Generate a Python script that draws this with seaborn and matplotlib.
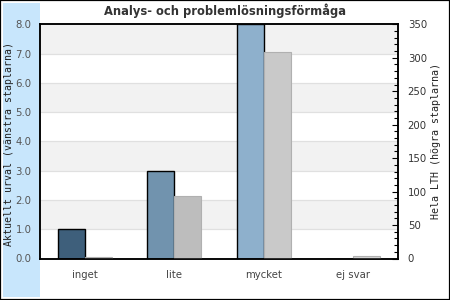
import matplotlib
matplotlib.use("Agg")
import matplotlib.pyplot as plt
from matplotlib.patches import Rectangle
from matplotlib.ticker import MultipleLocator
import seaborn as sns
import pandas as pd

# ---- data ----
kategorier = ["inget", "lite", "mycket", "ej svar"]
aktuellt_urval = [1, 3, 8, 0]
hela_lth = [2, 93, 309, 4]
serier = ["Aktuellt urval", "Hela LTH"]
titel = "Analys- och problemlösningsförmåga"
vanster_etikett = "Aktuellt urval (vänstra staplarna)"
hoger_etikett = "Hela LTH (högra staplarna)"
vanster_ticks = [0, 1, 2, 3, 4, 5, 6, 7, 8]
hoger_ticks = [0, 50, 100, 150, 200, 250, 300, 350]

bla_farger = ["#3e5f7b", "#7193ae", "#8eb0cc", "#a8c4dc"]
gra_farger = ["#999999", "#bdbdbd", "#c9c9c9", "#d4d4d4"]

sns.set_theme(style="white")
plt.rcParams["font.family"] = ["DejaVu Sans"]

fig = plt.figure(figsize=(4.5, 3.0), dpi=100)
fig.patch.set_facecolor("white")

# blue band on the left and figure border
fig.patches.append(Rectangle((3 / 450, 3 / 300), 37 / 450, 294 / 300,
                             transform=fig.transFigure, facecolor="#c8e6fc",
                             edgecolor="none", zorder=-10))
fig.patches.append(Rectangle((0, 0), 1, 1, transform=fig.transFigure,
                             facecolor="none", edgecolor="black", lw=1.6, zorder=10))

ax = fig.add_axes([40 / 450, 1 - 258.5 / 300, 358 / 450, 234.2 / 300])
ax.set_facecolor("white")

df_v = pd.DataFrame({"kategori": kategorier, "serie": serier[0], "varde": aktuellt_urval})
df_h = pd.DataFrame({"kategori": kategorier, "serie": serier[1], "varde": hela_lth})

# background stripes and grid
for lo in range(1, 8, 2):
    ax.axhspan(lo, lo + 1, color="#f2f2f2", zorder=0, lw=0)
for y in vanster_ticks[1:-1]:
    ax.axhline(y, color="#e0e0e0", lw=0.9, zorder=0.5)

sns.barplot(data=df_v, x="kategori", y="varde", hue="serie", hue_order=serier,
            order=kategorier, dodge=True, width=0.6, ax=ax, legend=False,
            palette=["#3e5f7b", "#999999"], edgecolor="black", linewidth=1.0,
            saturation=1, zorder=2)
for patch, c in zip(ax.containers[0], bla_farger):
    patch.set_facecolor(c)

ax.set_ylim(0, 8)
ax.set_yticks(vanster_ticks)
ax.set_yticklabels([f"{v:.1f}" for v in vanster_ticks])
ax.set_xlabel("")
ax.set_ylabel(vanster_etikett, family="DejaVu Sans Mono", fontsize=7.1, color="#222")
ax.yaxis.set_label_coords(-26 / 358, 0.49)
ax.tick_params(axis="y", length=0, pad=6, labelsize=7.3, labelcolor="#555")
ax.tick_params(axis="x", length=0, pad=8, labelsize=7.3, labelcolor="#444")

ax2 = ax.twinx()
sns.barplot(data=df_h, x="kategori", y="varde", hue="serie", hue_order=serier,
            order=kategorier, dodge=True, width=0.6, ax=ax2, legend=False,
            palette=["#3e5f7b", "#c9c9c9"], edgecolor="#b0b0b0", linewidth=0.8,
            saturation=1, zorder=2)
for patch, c in zip(ax2.containers[-1], gra_farger):
    patch.set_facecolor(c)
ax2.set_ylim(0, 350)
ax2.set_yticks(hoger_ticks)
ax2.yaxis.set_minor_locator(MultipleLocator(10))
ax2.tick_params(axis="y", which="major", direction="in", length=4, width=0.8,
                color="black", pad=7, labelsize=7.3, labelcolor="#333")
ax2.tick_params(axis="y", which="minor", direction="in", length=3, width=0.8,
                color="black")
ax2.set_ylabel(hoger_etikett, family="DejaVu Sans Mono", fontsize=7.2, color="#222")
ax2.yaxis.set_label_coords(1 + 33 / 358, 0.5)
ax2.set_xlabel("")

for a in (ax, ax2):
    for s in a.spines.values():
        s.set_visible(True)
        s.set_color("black")
        s.set_linewidth(1.1)

fig.text(0.5, 1 - 11 / 300, titel, ha="center", va="center",
         fontsize=8.3, fontweight="bold", color="#333")

fig.savefig("out.png", dpi=100)
